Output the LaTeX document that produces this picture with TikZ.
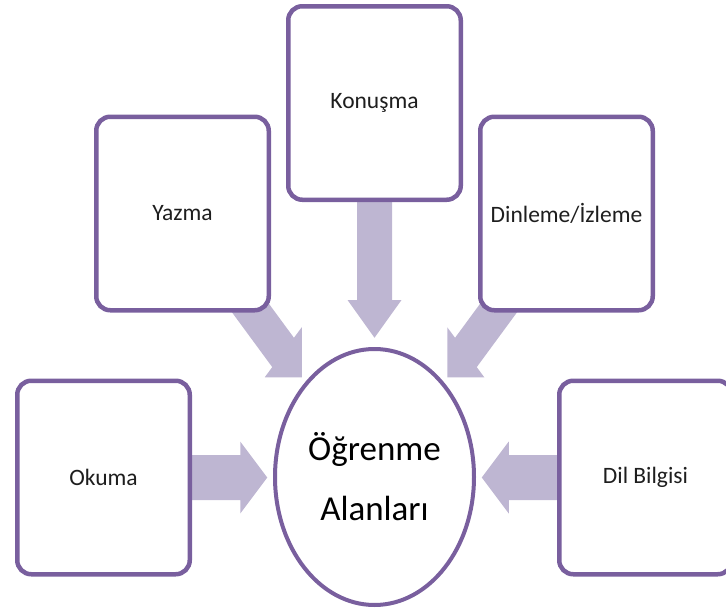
\documentclass[tikz,border=0pt]{standalone}
\usepackage{fontspec}
\setmainfont{Carlito}
\usetikzlibrary{shapes.geometric,calc}
\definecolor{areaborder}{RGB}{121,95,158}
\definecolor{arrowfill}{RGB}{190,182,210}
\definecolor{labeltext}{RGB}{30,30,30}
\pgfdeclarelayer{background}
\pgfsetlayers{background,main}

\begin{document}
\begin{tikzpicture}[x=1pt,y=-1pt,
  areabox/.style={draw=areaborder, line width=4.5pt, fill=white,
    rounded corners=14pt, minimum width=172.5pt, minimum height=193.5pt,
    inner sep=0pt, text=labeltext, font=\fontsize{23.5}{28}\selectfont},
  hub/.style={ellipse, draw=areaborder, line width=4pt, fill=white,
    minimum width=199pt, minimum height=256pt, inner sep=0pt,
    align=center, text=black, font=\fontsize{35}{60}\selectfont},
  blockarrow/.style={fill=arrowfill, draw=none}]

\useasboundingbox (0,0) rectangle (726,608);
\clip (0,0) rectangle (726,608);

% learning areas around the hub
\node[areabox] (okuma)   at (103.5,477.5) {Okuma};
\node[areabox] (yazma)   at (182.5,213.5) {Yazma};
\node[areabox] (konusma) at (374.5,103)   {Konuşma};
\node[areabox] (dinleme) at (566.5,213.5) {Dinleme/İzleme};
\node[areabox] (dil)     at (645.5,477.5) {Dil Bilgisi};
\node[hub]     (alan)    at (374.5,477)   {Öğrenme\\Alanları};

% block arrows pointing to the hub, behind the boxes
\begin{pgfonlayer}{background}
  \begin{scope}[shift={(okuma.east)}]
    \fill[blockarrow] (-10,-22.5) -- (48.25,-22.5) -- (48.25,-36) -- (75.25,0)
      -- (48.25,36) -- (48.25,22.5) -- (-10,22.5) -- cycle;
  \end{scope}
  \begin{scope}[shift={(dil.west)}, xscale=-1]
    \fill[blockarrow] (-10,-22.5) -- (48.25,-22.5) -- (48.25,-36) -- (75.25,0)
      -- (48.25,36) -- (48.25,22.5) -- (-10,22.5) -- cycle;
  \end{scope}
  \begin{scope}[shift={(konusma.south)}]
    \fill[blockarrow] (-17.5,-10) -- (-17.5,98) -- (-27,98) -- (0,135.75)
      -- (27,98) -- (17.5,98) -- (17.5,-10) -- cycle;
  \end{scope}
  \begin{scope}[shift={(yazma.south east)}]
    \fill[blockarrow] (-58.75,-27) -- (1.25,54.6) -- (-6.25,64.75) -- (30.75,64.75)
      -- (30.75,14.75) -- (22.95,25.3) -- (-37.05,-56.3) -- cycle;
  \end{scope}
  \begin{scope}[shift={(dinleme.south west)}, xscale=-1]
    \fill[blockarrow] (-58.75,-27) -- (1.25,54.6) -- (-6.25,64.75) -- (30.75,64.75)
      -- (30.75,14.75) -- (22.95,25.3) -- (-37.05,-56.3) -- cycle;
  \end{scope}
\end{pgfonlayer}
\end{tikzpicture}
\end{document}
